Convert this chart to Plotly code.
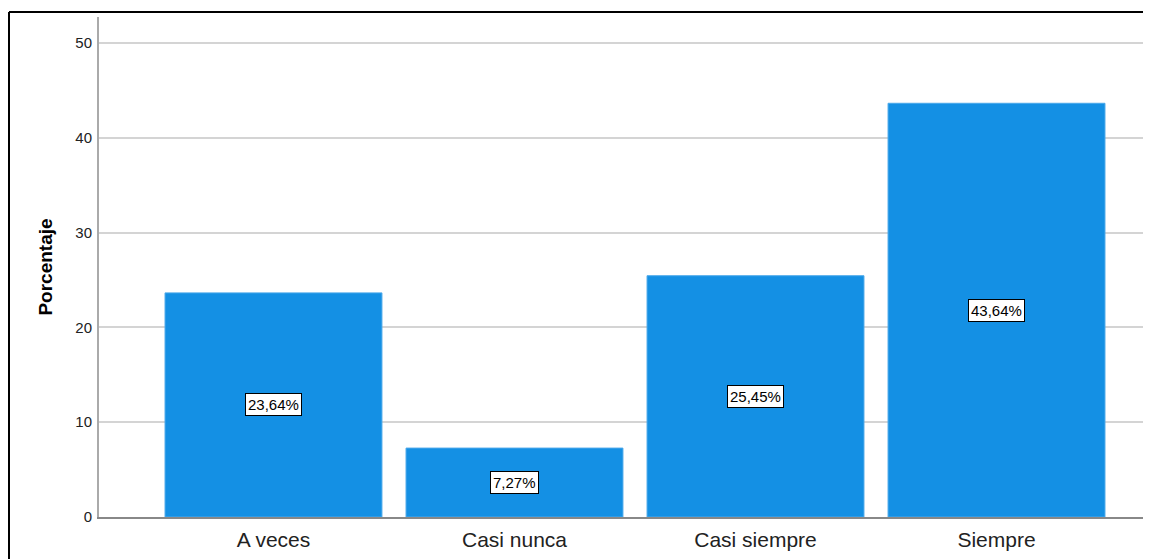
import plotly.graph_objects as go

categories = ["A veces", "Casi nunca", "Casi siempre", "Siempre"]
values = [23.64, 7.27, 25.45, 43.64]
labels = ["23,64%", "7,27%", "25,45%", "43,64%"]
y_ticks = [0, 10, 20, 30, 40, 50]

# page body has an 8px default margin, so size the figure to fit
W, H = 1143, 551
L, R, T, B = 91, 0, 9, 42

fig = go.Figure()
fig.add_trace(go.Bar(
    x=list(range(len(categories))), y=values,
    marker=dict(color="#1490E4", line=dict(color="#4aa8ea", width=1)),
    width=0.9, hoverinfo="skip",
))

for i, (v, lab) in enumerate(zip(values, labels)):
    fig.add_annotation(x=i, y=v / 2, text=lab, showarrow=False,
                       font=dict(family="Liberation Sans, Arial", size=15, color="#000"),
                       bgcolor="white", bordercolor="#000", borderwidth=1, borderpad=2)

pw = W - L - R
ph = H - T - B
# outer frame lines (left and top)
x0 = (1 - L) / pw
y0 = (H - B - 4) / ph
fig.add_shape(type="line", xref="paper", yref="paper", x0=x0, x1=x0, y0=-B / ph, y1=y0,
              line=dict(color="#000", width=2))
fig.add_shape(type="line", xref="paper", yref="paper", x0=x0, x1=1.0, y0=y0, y1=y0,
              line=dict(color="#000", width=2))

fig.update_layout(
    width=W, height=H,
    margin=dict(l=L, r=R, t=T, b=B, pad=0),
    paper_bgcolor="white", plot_bgcolor="white",
    showlegend=False,
    font=dict(family="Liberation Sans, Arial", color="#222"),
    xaxis=dict(
        range=[-0.724, 3.641], tickmode="array",
        tickvals=list(range(len(categories))), ticktext=categories,
        tickfont=dict(size=21, color="#222"), showgrid=False,
        showline=True, linecolor="#888", linewidth=2, ticks="outside",
        ticklen=3, tickcolor="white", zeroline=False,
    ),
    yaxis=dict(
        range=[0, 52.74], tickmode="array", tickvals=y_ticks,
        ticktext=[str(t) for t in y_ticks],
        tickfont=dict(size=15, color="#222"),
        showgrid=True, gridcolor="#d4d4d4", gridwidth=2,
        showline=True, linecolor="#aaa", linewidth=2,
        ticks="outside", ticklen=2, tickcolor="white", zeroline=False,
        title=dict(text="<b>Porcentaje</b>", font=dict(size=19, color="#000"), standoff=18),
    ),
)

fig.write_html("out.html")
